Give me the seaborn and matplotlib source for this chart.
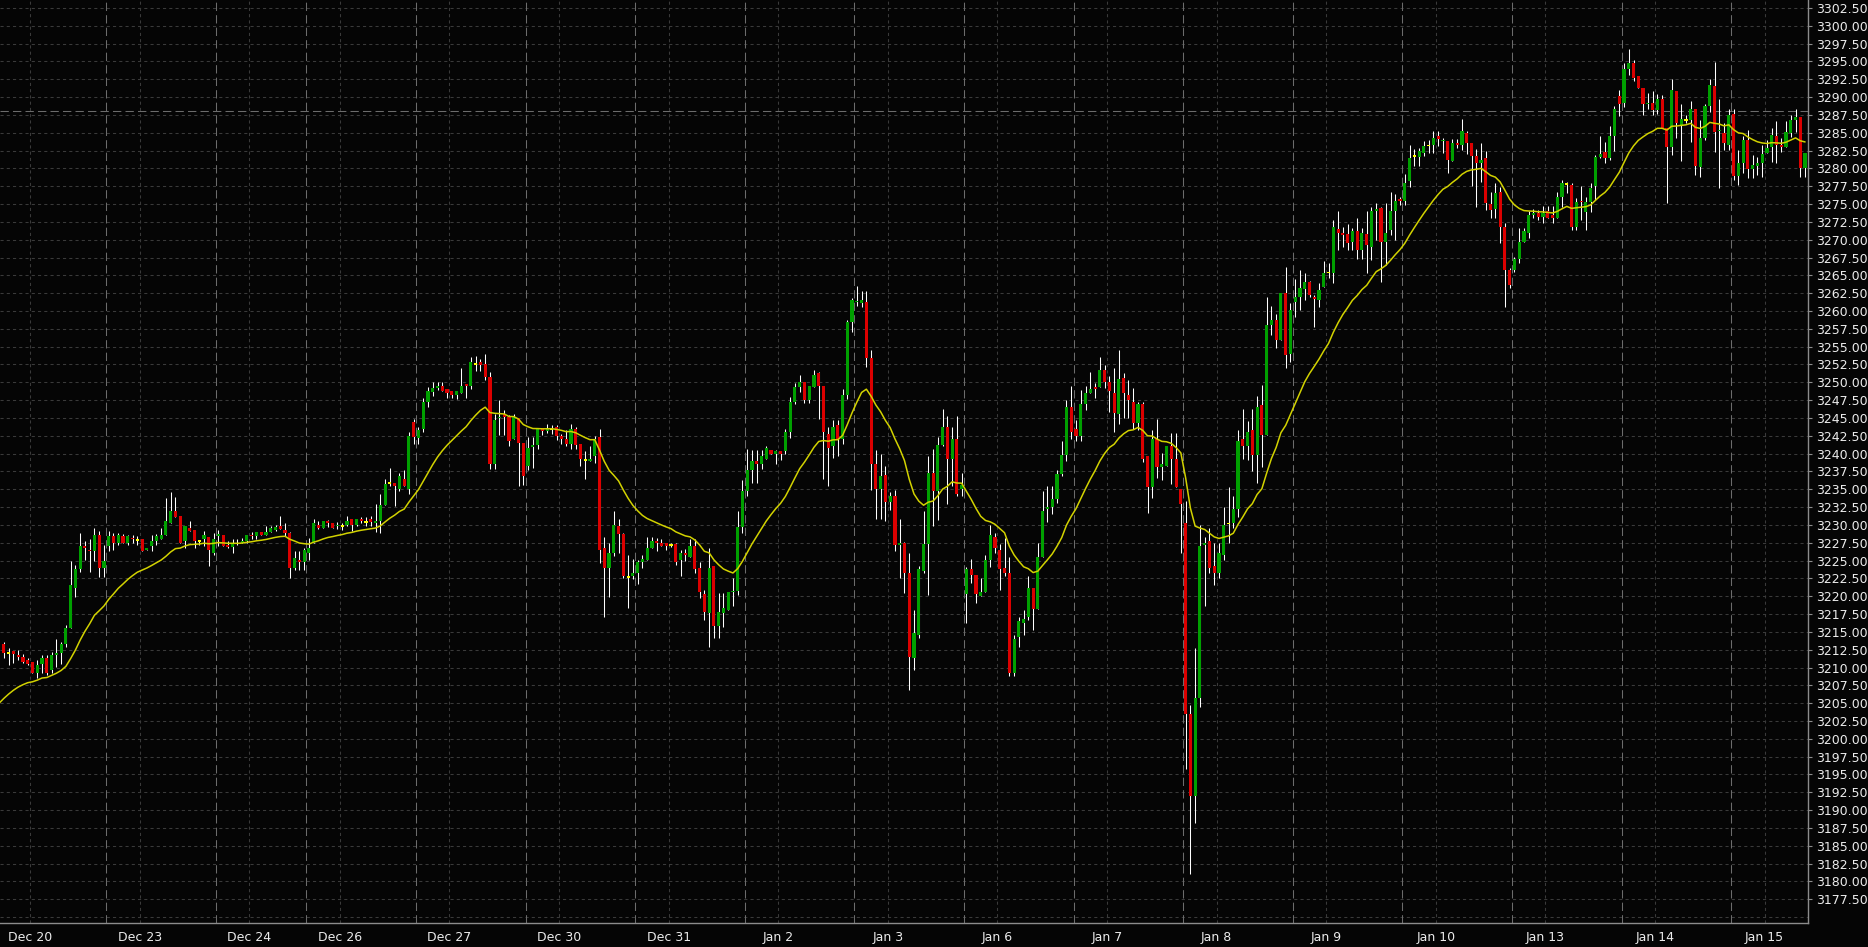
import numpy as np
import pandas as pd
import matplotlib
matplotlib.use("Agg")
import matplotlib.pyplot as plt
import seaborn as sns

# =============================================================================
# DATA  (hourly bars)
# =============================================================================
SESSIONS = ["Dec 20", "Dec 23", "Dec 24", "Dec 26", "Dec 27", "Dec 30", "Dec 31",
            "Jan 2", "Jan 3", "Jan 6", "Jan 7", "Jan 8", "Jan 9", "Jan 10",
            "Jan 13", "Jan 14", "Jan 15"]
SESSION_BARS = [22, 23, 19, 23, 23, 23, 23, 23, 23, 23, 23, 23, 23, 23, 23, 23, 16]
HIDDEN_FIRST_BARS = 1       # bars of the first session left of the frame
MIDNIGHT_OFFSET = 6.5       # date tick sits this many bars after session open

OPEN = [
    3213.3, 3212.0, 3212.3, 3211.8, 3211.5, 3211.1, 3210.8, 3209.2, 3210.5, 3211.4, 3209.6, 3211.8, 3212.0, 3213.3, 3215.6, 3221.2, 3223.8, 3227.1, 3226.5, 3226.4, 3228.6, 3224.0,
    3227.1, 3228.4, 3227.5, 3228.4, 3227.5, 3228.2, 3227.9, 3228.0, 3226.5, 3227.0, 3227.7, 3228.0, 3228.6, 3230.3, 3232.0, 3231.3, 3227.7, 3229.6, 3229.3, 3227.7, 3228.0, 3228.3, 3226.1,
    3228.5, 3228.6, 3227.2, 3226.9, 3227.4, 3227.4, 3227.8, 3228.6, 3228.4, 3229.0, 3228.6, 3229.0, 3229.3, 3229.8, 3229.3, 3228.8, 3224.0, 3225.1, 3224.8,
    3226.0, 3227.4, 3230.0, 3229.6, 3230.5, 3230.2, 3229.8, 3229.85, 3230.0, 3230.8, 3230.0, 3230.8, 3230.4, 3230.8, 3230.2, 3230.5, 3232.8, 3235.9, 3235.9, 3235.0, 3236.5, 3235.0, 3244.4,
    3242.2, 3243.4, 3247.3, 3248.6, 3249.2, 3249.5, 3249.0, 3248.8, 3248.2, 3248.5, 3249.8, 3249.5, 3252.6, 3252.8, 3252.6, 3250.8, 3238.6, 3245.0, 3245.6, 3245.1, 3242.1, 3245.0, 3241.5,
    3238.3, 3240.9, 3241.2, 3243.4, 3243.2, 3243.5, 3243.7, 3242.5, 3242.0, 3241.4, 3243.4, 3241.4, 3239.1, 3238.9, 3239.6, 3242.4, 3226.7, 3224.0, 3226.0, 3229.8, 3228.7, 3222.7, 3222.8,
    3223.3, 3224.8, 3225.1, 3226.7, 3227.7, 3227.4, 3227.4, 3227.2, 3227.3, 3225.1, 3226.0, 3225.5, 3227.0, 3224.0, 3220.3, 3217.6, 3224.3, 3215.8, 3217.6, 3218.1, 3220.6, 3220.7, 3229.7,
    3234.7, 3237.7, 3239.0, 3238.5, 3239.2, 3240.5, 3240.0, 3240.3, 3240.3, 3243.1, 3247.3, 3249.3, 3250.1, 3247.5, 3249.3, 3251.3, 3249.5, 3242.8, 3241.1, 3244.0, 3242.0, 3248.2, 3258.5,
    3261.2, 3261.1, 3261.3, 3253.4, 3238.6, 3235.1, 3237.0, 3233.2, 3234.1, 3227.2, 3227.4, 3223.3, 3211.4, 3214.6, 3223.6, 3227.3, 3237.3, 3234.8, 3241.2, 3243.8, 3239.2, 3242.0, 3235.0,
    3220.3, 3223.8, 3223.0, 3220.0, 3220.6, 3225.1, 3228.3, 3226.5, 3224.0, 3223.3, 3209.3, 3214.3, 3216.3, 3217.1, 3221.2, 3218.2, 3225.5, 3232.3, 3232.5, 3233.7, 3237.2, 3239.8, 3246.5,
    3243.4, 3242.5, 3247.0, 3248.5, 3249.3, 3249.3, 3251.7, 3250.1, 3248.5, 3245.6, 3250.6, 3248.2, 3247.3, 3244.3, 3246.9, 3239.6, 3235.3, 3242.1, 3238.1, 3238.3, 3241.1, 3239.3, 3235.1,
    3230.3, 3203.5, 3192.0, 3205.7, 3227.2, 3227.7, 3224.3, 3223.3, 3225.8, 3230.2, 3230.2, 3232.3, 3242.1, 3241.1, 3243.3, 3239.8, 3246.8, 3242.6, 3258.0, 3258.7, 3255.9, 3262.5, 3254.0,
    3261.3, 3262.0, 3263.1, 3264.0, 3262.0, 3261.6, 3263.3, 3265.4, 3265.4, 3271.5, 3270.9, 3270.8, 3269.7, 3271.2, 3268.6, 3270.8, 3269.0, 3274.0, 3274.4, 3269.7, 3271.3, 3274.0, 3275.7,
    3275.4, 3278.3, 3281.7, 3281.6, 3282.2, 3283.2, 3283.3, 3284.5, 3283.8, 3283.8, 3281.1, 3283.5, 3283.3, 3285.0, 3283.5, 3281.7, 3280.8, 3281.5, 3275.0, 3274.3, 3276.7, 3271.8, 3265.8,
    3265.8, 3267.3, 3269.7, 3271.0, 3273.4, 3273.7, 3273.2, 3274.0, 3273.5, 3273.1, 3276.0, 3277.8, 3277.7, 3271.8, 3275.5, 3273.9, 3275.3, 3277.5, 3281.6, 3282.3, 3281.4, 3284.5, 3290.1,
    3289.2, 3293.9, 3294.8, 3292.9, 3291.3, 3289.0, 3289.2, 3288.2, 3289.7, 3285.6, 3283.0, 3290.8, 3286.0, 3286.8, 3286.8, 3288.4, 3280.2, 3284.2, 3288.7, 3291.5, 3285.2, 3284.9, 3283.3,
    3287.7, 3279.0, 3280.7, 3284.0, 3279.9, 3280.3, 3280.8, 3282.1, 3283.0, 3284.5, 3283.3, 3283.0, 3285.0, 3286.8, 3287.2, 3280.0,
]
HIGH = [
    3213.6, 3212.7, 3212.3, 3212.4, 3211.9, 3211.3, 3210.8, 3211.1, 3211.8, 3211.8, 3212.2, 3214.0, 3213.6, 3216.0, 3224.9, 3224.4, 3228.8, 3227.8, 3228.0, 3229.5, 3229.1, 3227.2,
    3229.1, 3228.8, 3228.8, 3228.7, 3228.6, 3228.6, 3228.4, 3228.0, 3226.8, 3228.6, 3228.7, 3229.5, 3233.8, 3234.6, 3233.9, 3231.3, 3229.8, 3230.6, 3229.3, 3227.9, 3229.1, 3228.3, 3228.8,
    3229.3, 3228.6, 3227.7, 3228.0, 3228.0, 3228.1, 3228.6, 3229.0, 3229.0, 3229.0, 3229.8, 3229.8, 3230.0, 3231.3, 3230.2, 3229.0, 3226.3, 3226.3, 3226.7,
    3228.2, 3230.9, 3230.5, 3230.5, 3230.7, 3230.2, 3230.4, 3230.3, 3231.3, 3230.8, 3230.8, 3231.1, 3231.1, 3231.2, 3233.0, 3234.4, 3236.5, 3238.0, 3235.9, 3237.3, 3237.7, 3243.0, 3244.8,
    3243.8, 3247.8, 3249.4, 3250.1, 3250.1, 3250.1, 3249.1, 3248.8, 3248.8, 3252.0, 3249.8, 3253.6, 3253.7, 3253.3, 3254.0, 3251.5, 3245.6, 3247.5, 3246.1, 3245.4, 3245.6, 3245.0, 3241.5,
    3242.4, 3242.4, 3243.6, 3243.4, 3244.2, 3244.0, 3244.0, 3242.8, 3243.3, 3244.2, 3243.8, 3241.4, 3240.3, 3241.1, 3242.5, 3243.4, 3228.3, 3227.4, 3231.9, 3230.8, 3228.9, 3225.8, 3225.2,
    3225.1, 3225.8, 3228.3, 3228.3, 3228.1, 3228.0, 3227.4, 3227.4, 3227.4, 3226.5, 3226.6, 3228.0, 3228.0, 3224.8, 3220.9, 3226.7, 3224.3, 3220.4, 3220.4, 3220.6, 3222.5, 3231.9, 3236.3,
    3240.7, 3240.5, 3240.5, 3240.5, 3241.1, 3240.5, 3240.5, 3240.3, 3243.5, 3248.0, 3249.9, 3251.0, 3250.1, 3249.5, 3251.7, 3251.5, 3249.5, 3243.7, 3244.7, 3244.7, 3249.1, 3258.8, 3261.8,
    3263.5, 3262.8, 3262.8, 3254.5, 3240.5, 3240.0, 3238.2, 3234.6, 3234.9, 3230.9, 3227.6, 3226.0, 3218.1, 3224.3, 3232.0, 3239.6, 3240.7, 3242.4, 3246.2, 3245.3, 3243.8, 3245.3, 3237.3,
    3224.1, 3225.2, 3223.0, 3222.5, 3225.8, 3230.0, 3228.9, 3227.3, 3228.1, 3225.5, 3214.6, 3217.1, 3218.1, 3222.8, 3221.2, 3227.4, 3234.8, 3235.5, 3235.5, 3237.7, 3241.8, 3247.5, 3249.5,
    3244.7, 3248.9, 3249.5, 3251.5, 3249.9, 3253.6, 3252.4, 3250.9, 3252.0, 3254.5, 3251.3, 3250.3, 3249.2, 3247.3, 3247.3, 3239.6, 3243.3, 3244.8, 3240.1, 3241.1, 3242.9, 3242.9, 3235.1,
    3233.3, 3204.7, 3212.8, 3230.0, 3228.3, 3229.5, 3227.4, 3227.4, 3232.5, 3235.3, 3234.0, 3243.3, 3246.3, 3244.6, 3246.3, 3248.1, 3249.6, 3262.0, 3260.7, 3259.6, 3262.5, 3266.2, 3261.1,
    3264.5, 3265.8, 3265.3, 3264.2, 3262.3, 3263.9, 3267.0, 3266.7, 3272.8, 3274.0, 3271.8, 3272.2, 3271.7, 3273.1, 3271.7, 3274.0, 3274.6, 3275.2, 3274.6, 3275.1, 3276.7, 3276.4, 3276.0,
    3279.2, 3283.3, 3282.7, 3282.8, 3283.8, 3284.0, 3285.2, 3285.2, 3284.2, 3283.8, 3284.1, 3284.1, 3286.9, 3285.3, 3283.5, 3282.7, 3283.6, 3282.4, 3276.7, 3277.9, 3277.4, 3272.3, 3266.0,
    3267.6, 3271.6, 3271.7, 3274.0, 3274.3, 3274.2, 3274.7, 3274.7, 3274.7, 3276.7, 3278.4, 3278.1, 3277.9, 3275.8, 3277.5, 3276.0, 3277.9, 3281.9, 3284.5, 3283.7, 3285.9, 3288.7, 3291.0,
    3294.8, 3296.7, 3295.2, 3292.9, 3291.3, 3290.6, 3290.8, 3290.5, 3290.3, 3285.6, 3292.5, 3290.8, 3289.0, 3287.5, 3289.5, 3288.4, 3286.8, 3289.1, 3292.5, 3294.9, 3289.8, 3286.3, 3288.4,
    3288.4, 3282.6, 3284.5, 3285.4, 3281.9, 3281.6, 3283.3, 3284.0, 3285.6, 3286.6, 3284.2, 3286.6, 3287.5, 3288.4, 3287.2, 3282.2,
]
LOW = [
    3211.3, 3210.3, 3210.7, 3211.0, 3210.6, 3210.3, 3209.2, 3208.5, 3209.2, 3209.0, 3209.2, 3210.1, 3210.5, 3212.9, 3215.5, 3219.9, 3223.4, 3225.1, 3223.4, 3225.0, 3222.7, 3222.7,
    3226.4, 3226.5, 3227.2, 3227.4, 3227.2, 3227.4, 3227.2, 3226.4, 3226.5, 3226.4, 3227.2, 3228.0, 3228.6, 3230.3, 3231.1, 3227.5, 3226.7, 3229.1, 3226.7, 3227.2, 3227.0, 3224.2, 3225.8,
    3227.0, 3227.0, 3226.7, 3226.0, 3227.2, 3227.4, 3227.4, 3228.0, 3228.0, 3228.6, 3228.6, 3229.0, 3229.1, 3229.4, 3228.4, 3222.5, 3223.7, 3223.7, 3223.7,
    3225.1, 3227.4, 3229.4, 3229.6, 3229.7, 3229.6, 3229.4, 3229.3, 3229.8, 3229.2, 3229.8, 3230.3, 3229.9, 3229.9, 3229.0, 3228.9, 3232.8, 3235.4, 3232.7, 3234.7, 3235.4, 3234.4, 3241.4,
    3241.4, 3243.1, 3246.5, 3248.1, 3248.9, 3248.8, 3247.8, 3247.8, 3247.7, 3248.5, 3247.8, 3249.0, 3251.6, 3251.6, 3250.3, 3237.9, 3237.9, 3242.6, 3242.6, 3241.1, 3242.1, 3235.4, 3235.6,
    3237.7, 3238.0, 3240.7, 3242.6, 3242.9, 3242.7, 3241.9, 3241.4, 3241.0, 3240.6, 3240.7, 3238.2, 3236.4, 3238.9, 3238.7, 3224.7, 3217.1, 3219.9, 3225.7, 3226.0, 3222.5, 3218.4, 3222.4,
    3221.7, 3223.9, 3225.1, 3226.7, 3226.3, 3227.1, 3226.5, 3226.9, 3224.4, 3222.8, 3225.0, 3225.5, 3223.2, 3219.7, 3216.7, 3212.9, 3214.1, 3214.1, 3215.7, 3218.1, 3218.6, 3220.2, 3228.8,
    3234.0, 3235.9, 3235.9, 3237.8, 3239.2, 3240.0, 3238.5, 3239.1, 3239.9, 3242.2, 3246.9, 3248.7, 3247.1, 3247.1, 3249.3, 3244.9, 3236.4, 3235.4, 3239.4, 3239.7, 3241.3, 3247.7, 3257.1,
    3260.7, 3260.5, 3252.2, 3234.9, 3230.9, 3230.9, 3230.5, 3232.1, 3226.3, 3222.5, 3220.5, 3206.8, 3209.6, 3214.1, 3223.2, 3220.2, 3229.8, 3230.7, 3241.0, 3233.0, 3235.4, 3234.0, 3234.0,
    3216.2, 3221.8, 3219.0, 3220.0, 3220.6, 3224.1, 3226.0, 3220.9, 3222.8, 3208.8, 3208.8, 3212.9, 3214.6, 3216.7, 3215.3, 3218.2, 3225.5, 3230.4, 3231.6, 3233.1, 3236.8, 3238.9, 3242.0,
    3241.7, 3241.7, 3246.1, 3248.5, 3247.8, 3249.3, 3249.2, 3245.9, 3243.0, 3244.1, 3245.0, 3245.0, 3243.4, 3243.3, 3238.8, 3231.7, 3233.8, 3236.6, 3236.3, 3238.3, 3235.8, 3235.3, 3226.0,
    3195.7, 3181.0, 3188.2, 3204.5, 3218.6, 3223.3, 3221.6, 3222.5, 3225.1, 3227.4, 3229.5, 3231.1, 3239.2, 3239.1, 3237.6, 3235.9, 3238.1, 3242.6, 3256.6, 3254.8, 3255.9, 3252.0, 3252.9,
    3259.2, 3260.1, 3261.6, 3262.0, 3257.7, 3260.6, 3263.3, 3264.6, 3263.9, 3268.6, 3269.0, 3268.6, 3268.6, 3267.3, 3267.3, 3265.3, 3267.2, 3270.0, 3264.1, 3266.5, 3270.7, 3270.0, 3274.9,
    3274.9, 3277.4, 3280.4, 3280.4, 3281.7, 3282.1, 3282.2, 3283.2, 3282.1, 3279.4, 3281.1, 3282.8, 3282.6, 3282.0, 3277.5, 3274.6, 3278.1, 3274.2, 3273.1, 3273.0, 3269.5, 3260.6, 3263.2,
    3265.5, 3266.7, 3269.7, 3270.2, 3273.0, 3272.8, 3272.3, 3273.0, 3272.4, 3273.0, 3274.6, 3276.5, 3271.4, 3271.4, 3272.8, 3271.4, 3273.9, 3275.6, 3281.4, 3280.7, 3281.2, 3282.4, 3287.4,
    3288.6, 3293.1, 3292.2, 3291.3, 3287.5, 3288.4, 3287.5, 3287.7, 3285.6, 3275.2, 3281.9, 3284.2, 3281.1, 3286.4, 3283.7, 3279.1, 3278.8, 3284.0, 3287.9, 3282.3, 3277.2, 3282.6, 3282.6,
    3278.4, 3277.7, 3279.3, 3278.7, 3278.7, 3279.1, 3278.8, 3282.1, 3280.9, 3280.7, 3282.3, 3283.0, 3284.4, 3285.1, 3278.8, 3278.8,
]
CLOSE = [
    3212.1, 3212.0, 3211.9, 3211.5, 3210.8, 3210.5, 3209.2, 3210.4, 3211.4, 3209.2, 3211.8, 3212.0, 3213.3, 3215.6, 3221.6, 3223.8, 3227.1, 3226.8, 3226.3, 3228.6, 3224.0, 3225.0,
    3228.4, 3227.5, 3228.6, 3227.5, 3228.4, 3228.0, 3227.9, 3226.4, 3226.8, 3227.7, 3228.4, 3228.6, 3230.6, 3232.0, 3231.1, 3227.5, 3229.8, 3229.1, 3227.7, 3227.7, 3228.6, 3226.5, 3228.0,
    3228.6, 3227.0, 3226.9, 3227.4, 3227.4, 3227.8, 3228.6, 3228.4, 3229.0, 3228.6, 3229.0, 3229.5, 3229.7, 3229.4, 3228.8, 3224.0, 3225.4, 3224.8, 3226.5,
    3226.7, 3230.2, 3229.6, 3230.5, 3230.2, 3229.6, 3230.0, 3229.85, 3230.6, 3230.0, 3230.8, 3230.5, 3230.4, 3230.4, 3230.5, 3232.8, 3235.7, 3235.9, 3235.4, 3236.8, 3235.4, 3242.5, 3242.4,
    3243.3, 3247.3, 3248.8, 3249.2, 3249.5, 3248.8, 3248.5, 3248.2, 3248.8, 3249.5, 3249.5, 3252.8, 3252.6, 3252.4, 3250.8, 3238.6, 3244.7, 3245.2, 3245.1, 3241.8, 3245.1, 3241.5, 3236.8,
    3240.8, 3241.2, 3243.4, 3243.2, 3243.6, 3243.5, 3242.5, 3242.0, 3241.3, 3243.4, 3241.2, 3239.2, 3239.1, 3239.2, 3242.0, 3226.5, 3224.0, 3226.0, 3230.0, 3228.7, 3222.8, 3222.7, 3223.3,
    3224.8, 3225.2, 3226.7, 3227.7, 3227.5, 3227.1, 3227.1, 3227.2, 3224.8, 3226.0, 3225.8, 3227.0, 3223.8, 3220.6, 3217.8, 3224.0, 3215.8, 3217.8, 3218.3, 3220.6, 3220.8, 3229.7, 3234.7,
    3237.7, 3238.9, 3238.6, 3239.6, 3240.8, 3240.0, 3240.3, 3240.0, 3243.1, 3247.3, 3249.3, 3250.1, 3247.5, 3249.5, 3251.0, 3249.5, 3243.1, 3240.8, 3243.8, 3242.1, 3248.2, 3258.5, 3261.5,
    3261.4, 3261.5, 3253.4, 3238.6, 3235.1, 3236.8, 3233.2, 3234.0, 3227.2, 3227.4, 3223.3, 3211.5, 3214.8, 3223.8, 3227.3, 3237.3, 3234.8, 3241.2, 3243.8, 3239.2, 3242.0, 3234.3, 3235.6,
    3223.8, 3223.0, 3220.3, 3220.6, 3225.1, 3228.6, 3226.8, 3223.8, 3223.3, 3209.3, 3214.0, 3216.5, 3216.8, 3221.2, 3218.2, 3225.5, 3232.0, 3232.5, 3233.7, 3237.2, 3239.8, 3246.6, 3243.0,
    3242.5, 3247.0, 3248.5, 3249.0, 3249.0, 3251.7, 3250.1, 3248.8, 3245.7, 3250.4, 3248.5, 3247.5, 3244.3, 3246.9, 3239.3, 3235.3, 3242.1, 3238.1, 3238.6, 3241.1, 3239.3, 3235.3, 3233.0,
    3203.5, 3192.0, 3205.7, 3227.0, 3227.5, 3224.0, 3223.3, 3226.0, 3230.0, 3230.2, 3232.3, 3241.8, 3241.1, 3243.1, 3239.8, 3246.6, 3242.6, 3258.0, 3258.7, 3255.9, 3262.5, 3253.8, 3260.1,
    3262.0, 3263.2, 3264.0, 3262.3, 3261.7, 3263.0, 3265.4, 3265.4, 3271.8, 3271.0, 3270.6, 3269.6, 3271.2, 3268.6, 3270.9, 3269.3, 3274.0, 3274.3, 3269.7, 3270.9, 3274.0, 3275.4, 3275.4,
    3277.9, 3281.5, 3281.7, 3282.4, 3283.1, 3283.2, 3284.3, 3284.1, 3284.0, 3281.2, 3283.5, 3283.3, 3285.2, 3283.5, 3281.7, 3280.7, 3281.2, 3275.1, 3274.1, 3276.5, 3271.8, 3265.8, 3263.7,
    3267.3, 3269.7, 3271.2, 3273.5, 3273.7, 3273.2, 3273.7, 3273.1, 3273.1, 3276.0, 3277.9, 3277.8, 3271.8, 3275.3, 3275.3, 3275.3, 3277.2, 3281.6, 3282.0, 3281.4, 3284.5, 3288.4, 3289.1,
    3293.9, 3294.8, 3292.7, 3291.3, 3289.1, 3289.2, 3288.2, 3289.7, 3285.6, 3283.0, 3291.0, 3286.3, 3286.9, 3286.8, 3288.4, 3280.3, 3284.2, 3288.7, 3291.7, 3285.1, 3285.3, 3283.5, 3287.5,
    3279.0, 3280.7, 3284.0, 3279.9, 3280.5, 3280.8, 3282.0, 3282.8, 3284.7, 3283.3, 3283.0, 3285.1, 3286.8, 3287.2, 3280.0, 3282.2,
]

MA_SPAN = 20            # yellow line: exponential average of closes
MA_SEED = 3205.0        # its level at the left edge of the frame
REF_LEVEL = 3288.0      # dashed horizontal reference line

BG = "#050505"
UP, DOWN, FLAT = "#00a000", "#dc0000", "#ffff00"


# =============================================================================
# PLOT
# =============================================================================
def main():
    sns.set_style("dark")
    plt.rcParams["font.family"] = ["DejaVu Sans"]

    df = pd.DataFrame({"open": OPEN, "high": HIGH, "low": LOW, "close": CLOSE})
    df["idx"] = np.arange(len(df))
    df["high"] = df[["high", "open", "close"]].max(axis=1)
    df["low"] = df[["low", "open", "close"]].min(axis=1)

    body_lo = df[["open", "close"]].min(axis=1)
    body_h = (df["close"] - df["open"]).abs()
    colors = np.where(df["close"] > df["open"], UP, np.where(df["close"] < df["open"], DOWN, FLAT))
    flat = body_h < 1e-9
    body_h = body_h.clip(lower=0.16)
    body_lo = np.where(flat, df["close"] - 0.12, body_lo)
    body_h = np.where(flat, 0.24, body_h)

    ma = pd.Series([MA_SEED] + CLOSE).ewm(span=MA_SPAN, adjust=False).mean()
    ma_df = pd.DataFrame({"idx": np.arange(-1, len(CLOSE)), "ma": ma.values})

    # session boundaries and date ticks
    starts = np.empty(len(SESSION_BARS))
    starts[0] = -HIDDEN_FIRST_BARS
    starts[1:] = np.cumsum(SESSION_BARS)[:-1]
    tick_pos = starts + MIDNIGHT_OFFSET

    W, H = 1868, 947
    fig = plt.figure(figsize=(W / 100, H / 100), dpi=100, facecolor=BG)
    ax = fig.add_axes([0, 24 / H, 1808 / W, 923 / H], facecolor=BG)

    grid_c = "#3a3a3a"
    yticks = np.arange(3177.5, 3303.0, 2.5)
    for y in np.append(yticks, 3175.0):
        ax.axhline(y, color=grid_c, lw=0.75, ls=(0, (3, 3)), zorder=0)
    for x in tick_pos:
        ax.axvline(x, color=grid_c, lw=0.75, ls=(0, (3, 3)), zorder=0)
    for s in starts[1:]:
        ax.axvline(s - 0.5, color="#6c6c6c", lw=0.75, ls=(0, (8, 4)), zorder=0)
    ax.axhline(REF_LEVEL, color="#6c6c6c", lw=0.75, ls=(0, (8, 4)), zorder=0)

    ax.vlines(df["idx"], df["low"], df["high"], color="white", lw=0.75, zorder=2)
    ax.bar(df["idx"], body_h, bottom=body_lo, width=0.66, color=colors,
           linewidth=0, zorder=3)

    sns.lineplot(data=ma_df, x="idx", y="ma", ax=ax, color="#d2d200",
                 lw=1.1, zorder=4, legend=False)

    ax.set_xlim(-3.9 / 4.765, (1808 - 3.9) / 4.765)
    ax.set_ylim(3174.17, 3303.62)

    ax.yaxis.tick_right()
    ax.set_yticks(yticks)
    ax.set_yticklabels([f"{v:.2f}" for v in yticks])
    ax.set_xticks(tick_pos)
    ax.set_xticklabels(SESSIONS)
    ax.tick_params(axis="y", colors="#8c8c8c", labelcolor="#ececec", labelsize=9,
                   length=3, width=0.8, pad=2.5, right=True, left=False)
    ax.tick_params(axis="x", colors="#8c8c8c", labelcolor="#ececec", labelsize=9,
                   length=3, width=0.8, pad=2.5)
    ax.set_xlabel("")
    ax.set_ylabel("")
    ax.grid(False)
    for side in ["top", "left"]:
        ax.spines[side].set_visible(False)
    for side in ["right", "bottom"]:
        ax.spines[side].set_visible(True)
        ax.spines[side].set_color("#8c8c8c")
        ax.spines[side].set_linewidth(1.0)

    fig.savefig("out.png", dpi=100, facecolor=BG)
    plt.close(fig)


if __name__ == "__main__":
    main()
